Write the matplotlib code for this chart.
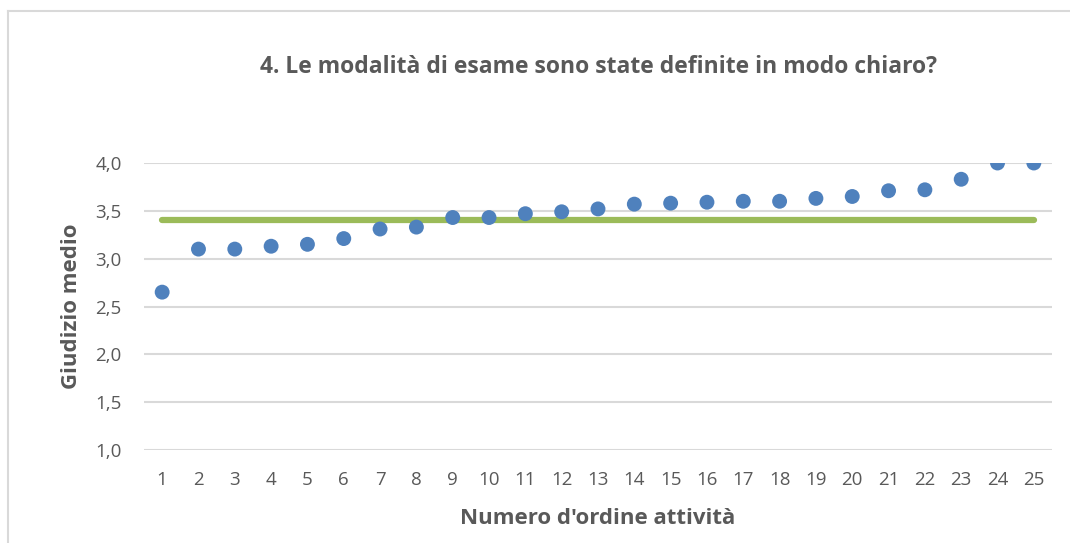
import matplotlib
matplotlib.use("Agg")
import matplotlib.pyplot as plt
from matplotlib.lines import Line2D

activities = list(range(1, 26))
scores = [2.65, 3.10, 3.10, 3.13, 3.15, 3.21, 3.31, 3.33, 3.43, 3.43,
          3.47, 3.49, 3.52, 3.57, 3.58, 3.59, 3.60, 3.60, 3.63, 3.65,
          3.71, 3.72, 3.83, 4.00, 4.00]
mean_line = [3.40] * 25
yticks = [1.0, 1.5, 2.0, 2.5, 3.0, 3.5, 4.0]
ytick_labels = ["1,0", "1,5", "2,0", "2,5", "3,0", "3,5", "4,0"]
title = "4. Le modalità di esame sono state definite in modo chiaro?"
xlabel = "Numero d'ordine attività"
ylabel = "Giudizio medio"

plt.rcParams['font.family'] = ['Open Sans', 'DejaVu Sans']

W, H = 1070, 543
fig = plt.figure(figsize=(W / 100, H / 100), dpi=100)
ax = fig.add_axes([144 / W, 1 - 450 / H, (1052 - 144) / W, (450 - 163) / H])
ax.set_ylim(1.0, 4.0)
ax.set_xlim(0.5, 25.5)

ax.plot(activities, mean_line, color='#9BBB59', lw=4.5, solid_capstyle='round', zorder=2)
ax.scatter(activities, scores, s=115, color='#4F81BD', edgecolors='none', zorder=3)

ax.set_yticks(yticks)
ax.set_yticklabels(ytick_labels)
ax.set_xticks(activities)
ax.set_xticklabels([str(a) for a in activities])
ax.yaxis.grid(True, color='#D9D9D9', lw=1.5)
ax.set_axisbelow(True)
for s in ax.spines.values():
    s.set_visible(False)
ax.tick_params(axis='both', length=0, labelsize=13.5, colors='#595959')
ax.tick_params(axis='y', pad=16)
ax.tick_params(axis='x', pad=15)

ax.set_xlabel(xlabel, fontsize=16, fontweight='bold', color='#595959', labelpad=14)
ax.set_ylabel(ylabel, fontsize=16, fontweight='bold', color='#595959', labelpad=10)
fig.text(598 / W, 1 - 67 / H, title, ha='center', va='center', fontsize=16.5,
         fontweight='bold', color='#595959')

# chart border (top and left visible)
fig.add_artist(Line2D([8 / W, 8 / W], [0, 1 - 10.5 / H], transform=fig.transFigure,
                      color='#D9D9D9', lw=1.5))
fig.add_artist(Line2D([8 / W, 1], [1 - 10.5 / H, 1 - 10.5 / H], transform=fig.transFigure,
                      color='#D9D9D9', lw=1.5))

fig.savefig("out.png", dpi=100)
